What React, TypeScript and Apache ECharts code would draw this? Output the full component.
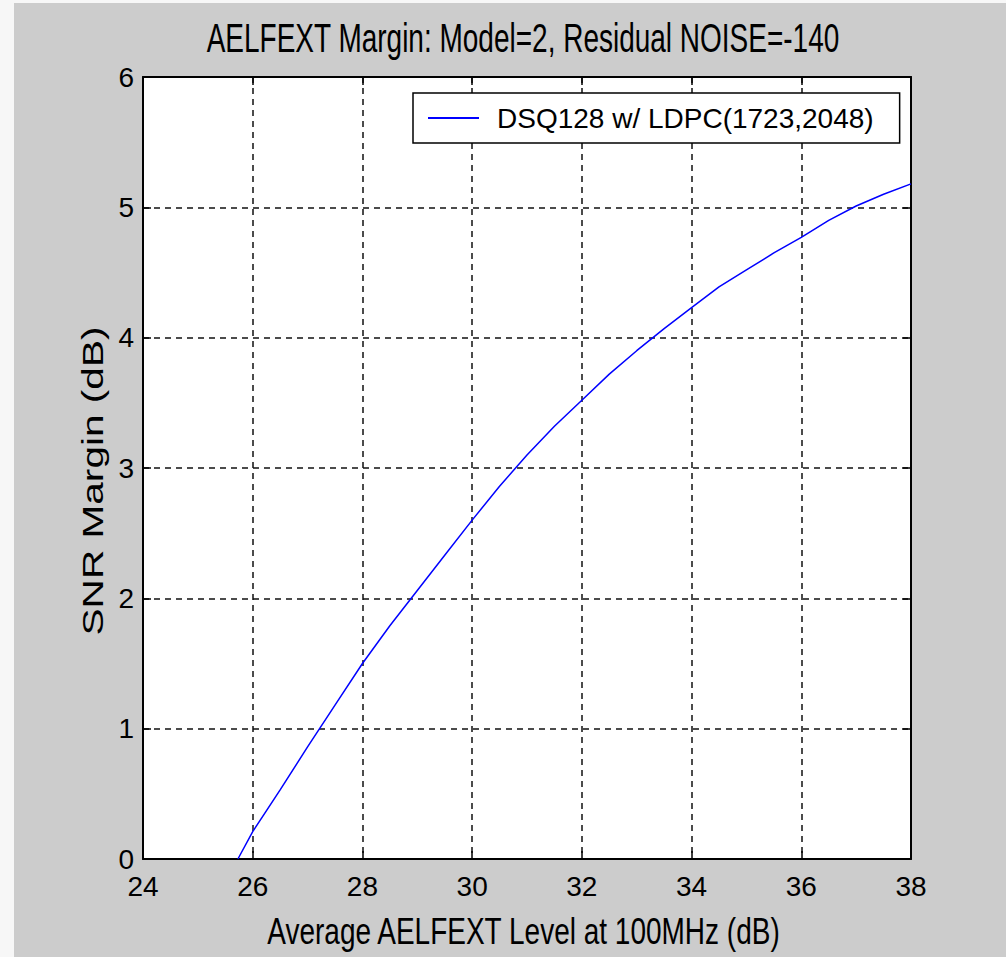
import React, { useEffect, useRef } from "react";
import * as echarts from "echarts";

const chartTitle = "AELFEXT Margin: Model=2, Residual NOISE=-140";
const xAxisName = "Average AELFEXT Level at 100MHz (dB)";
const yAxisName = "SNR Margin (dB)";
const seriesName = "DSQ128 w/ LDPC(1723,2048)";

const xLevels = [25.73, 26, 26.5, 27, 27.5, 28, 28.5, 29, 29.5, 30, 30.5, 31, 31.5, 32, 32.5, 33, 33.5, 34, 34.5, 35, 35.5, 36, 36.5, 37, 37.5, 38];
const snrMargin = [0, 0.21, 0.53, 0.86, 1.18, 1.5, 1.79, 2.06, 2.33, 2.6, 2.86, 3.1, 3.32, 3.52, 3.72, 3.9, 4.07, 4.23, 4.39, 4.52, 4.65, 4.77, 4.9, 5.01, 5.1, 5.18];

const xMin = 24, xMax = 38, xStep = 2;
const yMin = 0, yMax = 6, yStep = 1;

const FONT = "'Liberation Sans', Arial, sans-serif";

export default function App() {
  const ref = useRef<HTMLDivElement>(null);
  useEffect(() => {
    document.body.style.margin = "0";
    const chart = echarts.init(ref.current!, null, { renderer: "svg" });
    const axisLine = { show: true, onZero: false, lineStyle: { color: "#000", width: 2 } };
    const tick = { show: true, inside: true, length: 8, lineStyle: { color: "#000", width: 1.5 } };
    const dashed = { show: true, lineStyle: { color: "#111", width: 1.5, type: [6, 5] } };
    chart.setOption({
      animation: false,
      backgroundColor: "#cccccc",
      graphic: [
        { type: "rect", z: -10, shape: { x: 0, y: 0, width: 14, height: 957 }, style: { fill: "#f7f7f7" } },
        { type: "rect", z: -10, shape: { x: 0, y: 0, width: 1006, height: 3 }, style: { fill: "#f7f7f7" } },
        {
          type: "text", x: 523, y: 37.5, scaleY: 1.45,
          style: { text: chartTitle, font: `28px ${FONT}`, fill: "#000", align: "center", verticalAlign: "middle" },
        },
        {
          type: "text", x: 523.5, y: 932, scaleY: 1.3,
          style: { text: xAxisName, font: `28px ${FONT}`, fill: "#000", align: "center", verticalAlign: "middle" },
        },
        {
          type: "text", x: 92.5, y: 481, rotation: Math.PI / 2, scaleX: 1.4,
          style: { text: yAxisName, font: `29px ${FONT}`, fill: "#000", align: "center", verticalAlign: "middle" },
        },
      ],
      legend: {
        data: [seriesName],
        left: 413,
        top: 93,
        backgroundColor: "#fff",
        borderColor: "#000",
        borderWidth: 1.5,
        borderRadius: 0,
        padding: [11, 26, 11, 15],
        icon: "rect",
        itemWidth: 51,
        itemHeight: 2,
        textStyle: { fontFamily: FONT, fontSize: 28, color: "#000", lineHeight: 28, padding: [0, 0, 0, 13] },
      },
      grid: { left: 143, right: 95, top: 77, bottom: 98, show: true, backgroundColor: "#fff", borderWidth: 0 },
      xAxis: [
        {
          type: "value", min: xMin, max: xMax, interval: xStep, position: "bottom",
          axisLine, axisTick: tick,
          axisLabel: { fontFamily: FONT, fontSize: 28, color: "#000", margin: 13 },
          splitLine: dashed,
        },
        {
          type: "value", min: xMin, max: xMax, interval: xStep, position: "top",
          axisLine, axisTick: tick, axisLabel: { show: false }, splitLine: { show: false },
        },
      ],
      yAxis: [
        {
          type: "value", min: yMin, max: yMax, interval: yStep, position: "left",
          axisLine, axisTick: tick,
          axisLabel: { fontFamily: FONT, fontSize: 28, color: "#000", margin: 9 },
          splitLine: dashed,
        },
        {
          type: "value", min: yMin, max: yMax, interval: yStep, position: "right",
          axisLine, axisTick: tick, axisLabel: { show: false }, splitLine: { show: false },
        },
      ],
      series: [
        {
          name: seriesName,
          type: "line",
          xAxisIndex: 0,
          yAxisIndex: 0,
          showSymbol: false,
          symbol: "none",
          data: xLevels.map((x, i) => [x, snrMargin[i]]),
          lineStyle: { color: "#0000ff", width: 1.5 },
          itemStyle: { color: "#0000ff" },
        },
      ],
    });
    return () => chart.dispose();
  }, []);
  return <div ref={ref} style={{ width: 1006, height: 957 }} />;
}
